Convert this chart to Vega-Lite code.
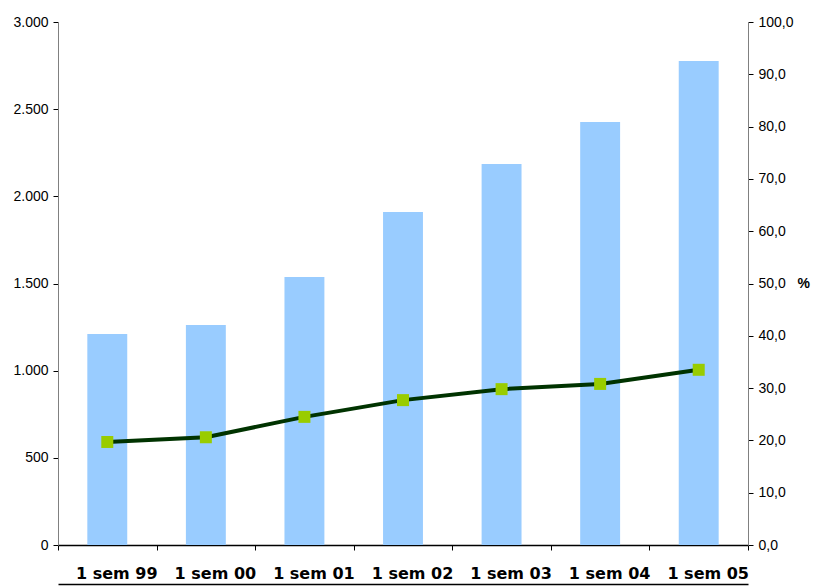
{
  "$schema": "https://vega.github.io/schema/vega-lite/v6.json",
  "width": 690,
  "height": 523,
  "autosize": {"type": "none"},
  "padding": {"left": 58, "top": 22, "right": 65, "bottom": 42},
  "background": "white",
  "config": {
    "view": {"stroke": null},
    "locale": {"number": {"decimal": ",", "thousands": ".", "grouping": [3], "currency": ["", " €"]}},
    "axis": {"grid": false, "labelFont": "Liberation Sans", "labelFontSize": 14, "labelColor": "#000000", "tickColor": "#000000", "domainColor": "#808080", "titleFont": "Liberation Sans"}
  },
  "data": {"values": [
    {"periodo": "1 sem 99", "valor": 1210, "pct": 19.7},
    {"periodo": "1 sem 00", "valor": 1262, "pct": 20.6},
    {"periodo": "1 sem 01", "valor": 1537, "pct": 24.5},
    {"periodo": "1 sem 02", "valor": 1910, "pct": 27.7},
    {"periodo": "1 sem 03", "valor": 2186, "pct": 29.8},
    {"periodo": "1 sem 04", "valor": 2427, "pct": 30.8},
    {"periodo": "1 sem 05", "valor": 2777, "pct": 33.5}
  ]},
  "layer": [
    {
      "mark": {"type": "bar", "color": "#99CCFF", "width": {"band": 0.405}},
      "encoding": {
        "x": {"field": "periodo", "type": "nominal", "sort": null,
          "scale": {"paddingInner": 0, "paddingOuter": 0},
          "axis": {"title": null, "labelAngle": 0, "labelFont": "DejaVu Sans", "labelFontWeight": "bold", "labelFontSize": 16, "labelPadding": 15, "labelOffset": 9, "tickBand": "extent", "tickSize": 5, "domainColor": "#000000", "domainWidth": 1.5}},
        "y": {"field": "valor", "type": "quantitative",
          "scale": {"domain": [0, 3000], "nice": false},
          "axis": {"title": null, "values": [0, 500, 1000, 1500, 2000, 2500, 3000], "format": ",.0f", "tickSize": 5, "labelPadding": 5}}
      }
    },
    {
      "mark": {"type": "line", "color": "#003300", "strokeWidth": 4, "point": {"shape": "square", "size": 144, "filled": true, "color": "#99CC00", "opacity": 1}},
      "encoding": {
        "x": {"field": "periodo", "type": "nominal", "sort": null,
          "axis": {"orient": "bottom", "offset": 39, "labels": false, "ticks": false, "title": null, "domainColor": "#000000", "domainWidth": 1.5}},
        "y": {"field": "pct", "type": "quantitative",
          "scale": {"domain": [0, 100], "nice": false},
          "axis": {"orient": "right", "title": "%", "titleAngle": 0, "titleFontSize": 14, "titleFontWeight": "bold", "titleAlign": "left", "titleBaseline": "middle", "titlePadding": 4, "values": [0, 10, 20, 30, 40, 50, 60, 70, 80, 90, 100], "format": ".1f", "tickSize": 5, "labelPadding": 5}}
      }
    }
  ],
  "resolve": {"scale": {"y": "independent"}, "axis": {"x": "independent"}}
}
